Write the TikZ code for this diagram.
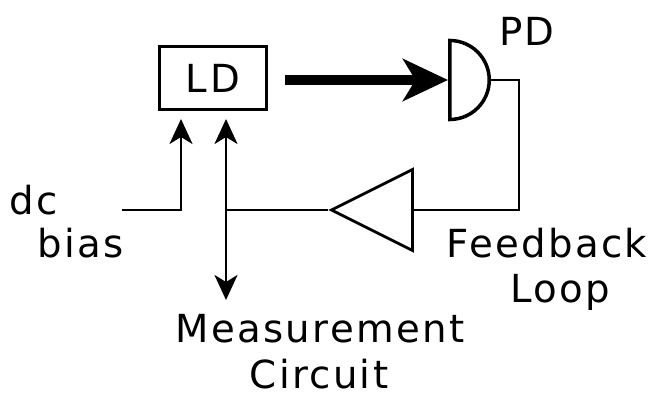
\documentclass[tikz,border=0pt]{standalone}
\usepackage{fontspec}
\setmainfont[LetterSpace=6]{DejaVu Sans}
\usetikzlibrary{arrows.meta, shapes.geometric, positioning, calc}

\begin{document}
\begin{tikzpicture}[
      >=Stealth,
      box/.style={draw, line width=2pt, minimum width=2.14cm, minimum height=1.26cm,
                  inner sep=0pt, align=center},
      det/.style={draw, line width=2pt, semicircle, rotate=-90,
                  minimum width=1.58cm, inner sep=0pt, anchor=chord center},
      amp/.style={draw, line width=1.6pt, isosceles triangle, shape border rotate=180,
                  isosceles triangle stretches, minimum width=1.62cm, minimum height=1.62cm,
                  inner sep=0pt},
      lab/.style={font=\fontsize{22}{26}\selectfont, inner sep=0pt, align=center},
      wire/.style={line width=1.6pt},
      arr/.style={->, line width=1.6pt, >={Stealth[length=0.5cm, width=0.46cm, inset=0.14cm]}}
    ]
    \useasboundingbox (0,0) rectangle (13.08,7.92);

    % --- Components ---
    \node[box, lab] (ld) at (4.26,6.36) {L\kern2pt D};
    \node[det] (pd) at (8.96,6.32) {};
    \node[amp] (gain) at (7.75,3.72) {};

    % --- Labels ---
    \node[lab] (pdtxt)  at (10.54,7.30) {PD};
    \node[lab] (dctxt)  at (0.68,3.92)  {dc};
    \node[lab] (biastxt) at (1.62,3.06) {bias};
    \node[lab] (fbtxt)  at (10.94,3.06) {Feedback};
    \node[lab] (looptxt) at (11.20,2.08) {Loop};
    \node[lab] (meastxt) at (6.40,1.34) {Measurement};
    \node[lab] (circtxt) at (6.38,0.44) {Circuit};

    % --- Free wire ends ---
    \coordinate (dcin)  at (2.44,3.72);
    \coordinate (dctip) at (3.62,5.54);
    \coordinate (mtip)  at (4.52,5.54);
    \coordinate (mout)  at (4.52,1.92);
    \coordinate (tap)   at (4.52,3.72);
    \coordinate (turn)  at (10.38,3.72);
    \coordinate (beam)  at (5.70,6.32);

    % --- Optical path ---
    \draw[->, line width=5.4pt, >={Stealth[length=0.9cm, width=0.84cm, inset=0.25cm]}] (beam) -- (pd.chord center);

    % --- Feedback loop ---
    \draw[wire] (pd.apex) -| (turn) -- (gain.lower side);
    \draw[wire] (gain.apex) -- (tap);
    \draw[arr] (dcin) -| (dctip);
    \draw[arr, <->] (mtip) -- (mout);

  \end{tikzpicture}
\end{document}
